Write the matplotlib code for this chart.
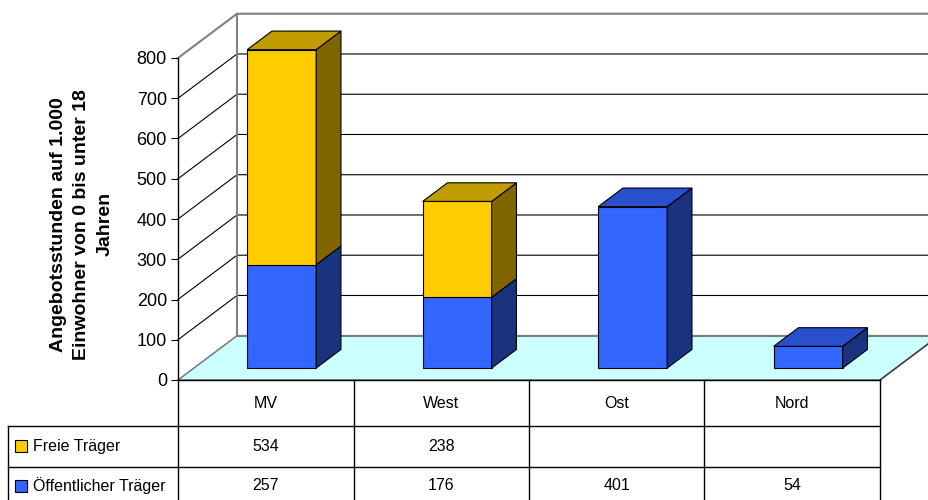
import matplotlib.pyplot as plt
from matplotlib.patches import Polygon, Rectangle

plt.rcParams['font.family'] = ['Liberation Sans', 'DejaVu Sans']

# data
regions = ['MV', 'West', 'Ost', 'Nord']
series_names = ['Freie Träger', 'Öffentlicher Träger']
oeffentlich = [257, 176, 401, 54]
freie = [534, 238, None, None]
y_ticks = [0, 100, 200, 300, 400, 500, 600, 700, 800]
y_label = 'Angebotsstunden auf 1.000\nEinwohner von 0 bis unter 18\nJahren'

# colours: front, top, side
yellow = ('#FFCC00', '#C09C00', '#806600')
blue = ('#3366FF', '#2A4FCC', '#1A337F')
floor_col = '#CCFFFF'
frame_grey = '#808080'

W, H = 929, 500
fig = plt.figure(figsize=(W / 100, H / 100), dpi=100)

# main 3d-looking plot area, x in category units, y in value units
ax = fig.add_axes([178 / W, 120 / H, 702 / W, 322 / H])
ax.set_xlim(-0.5, 3.5)
ax.set_ylim(0, 800)
ax.patch.set_alpha(0)
DX = 59 / 175.5   # depth shift in category units
DY = 110          # depth shift in value units
xl, xr = -0.5, 3.5
vmax = 800


def proj(x, v, d):
    return (x + d * DX, v + d * DY)


# side wall and back wall
side = Polygon([proj(xl, 0, 0), proj(xl, vmax, 0), proj(xl, vmax, 1), proj(xl, 0, 1)],
               closed=True, facecolor='white', edgecolor='none', clip_on=False, zorder=0)
back = Polygon([proj(xl, 0, 1), proj(xr + 0.3, 0, 1), proj(xr + 0.3, vmax, 1), proj(xl, vmax, 1)],
               closed=True, facecolor='white', edgecolor='none', clip_on=False, zorder=0)
ax.add_patch(side)
ax.add_patch(back)

# grid lines on side and back wall
for v in y_ticks[1:-1]:
    p0, p1, p2 = proj(xl, v, 0), proj(xl, v, 1), proj(xr + 0.3, v, 1)
    ax.plot([p0[0], p1[0], p2[0]], [p0[1], p1[1], p2[1]], color='black', lw=0.8,
            clip_on=False, zorder=1)

# wall frame
p0, p1, p2 = proj(xl, vmax, 0), proj(xl, vmax, 1), proj(xr + 0.3, vmax, 1)
ax.plot([p0[0], p1[0], p2[0]], [p0[1], p1[1], p2[1]], color=frame_grey, lw=1.5,
        clip_on=False, zorder=1)
p3 = proj(xl, 0, 1)
ax.plot([p1[0], p3[0]], [p1[1], p3[1]], color=frame_grey, lw=1.5, clip_on=False, zorder=1)

# floor
floor = Polygon([proj(xl, 0, 0), proj(xr, 0, 0), proj(xr, 0, 1), proj(xl, 0, 1)],
                closed=True, facecolor=floor_col, edgecolor=frame_grey, lw=1.2,
                clip_on=False, zorder=2)
ax.add_patch(floor)
b0, b1 = proj(xl, 0, 1), proj(xr + 0.3, 0, 1)
ax.plot([b0[0], b1[0]], [b0[1], b1[1]], color=frame_grey, lw=1.5, clip_on=False, zorder=2)

# bars
half_w = 69 / 175.5 / 2
d0, d1 = 0.27, 0.69


def draw_box(xc, v0, v1, cols, top=True):
    x0, x1 = xc - half_w, xc + half_w
    kw = dict(closed=True, edgecolor='black', lw=0.8, clip_on=False, zorder=3)
    front = [proj(x0, v0, d0), proj(x1, v0, d0), proj(x1, v1, d0), proj(x0, v1, d0)]
    right = [proj(x1, v0, d0), proj(x1, v0, d1), proj(x1, v1, d1), proj(x1, v1, d0)]
    ax.add_patch(Polygon(front, facecolor=cols[0], **kw))
    ax.add_patch(Polygon(right, facecolor=cols[2], **kw))
    if top:
        lid = [proj(x0, v1, d0), proj(x1, v1, d0), proj(x1, v1, d1), proj(x0, v1, d1)]
        ax.add_patch(Polygon(lid, facecolor=cols[1], **kw))


for i in range(len(regions)):
    base = oeffentlich[i]
    draw_box(i, 0, base, blue, top=freie[i] is None)
    if freie[i] is not None:
        draw_box(i, base, base + freie[i], yellow)

# axis
for s in ['top', 'right', 'bottom']:
    ax.spines[s].set_visible(False)
ax.spines['left'].set_color('black')
ax.spines['left'].set_linewidth(1.0)
ax.spines['left'].set_zorder(4)
ax.set_xticks([])
ax.set_yticks(y_ticks)
ax.tick_params(axis='y', direction='out', length=5, width=0.8, pad=3, labelsize=13)
ax.text(-0.137, 0.484, y_label, transform=ax.transAxes, rotation=90,
        ha='center', va='center', multialignment='center',
        fontsize=14, fontweight='bold', linespacing=1.45)

# data table below the plot
tax = fig.add_axes([178 / W, -7 / H, 702 / W, 127 / H])
tax.set_xlim(-0.5, 3.5)
tax.set_ylim(127, 0)
tax.axis('off')
PX = 1 / 175.5
rows = [0, 46, 86.7, 127]
left = xl - 170 * PX
lk = dict(color='black', lw=1.0, clip_on=False)

tax.plot([xl, xr], [rows[0], rows[0]], **lk)
tax.plot([left, xr], [rows[1], rows[1]], **lk)
tax.plot([left, xr], [rows[2], rows[2]], **lk)
tax.plot([left, left], [rows[1], rows[3]], **lk)
for k in range(len(regions) + 1):
    xe = xl + k
    tax.plot([xe, xe], [rows[0], rows[3]], **lk)
# right edge of the floor
fr0, fr1 = proj(xr, 0, 0), proj(xr, 0, 1)
ax.plot([fr0[0], fr1[0]], [fr0[1], fr1[1]], color='#404040', lw=1.0, clip_on=False, zorder=2)

fs = 11.5
for i, name in enumerate(regions):
    tax.text(i, (rows[0] + rows[1]) / 2, name, ha='center', va='center', fontsize=fs)
    if freie[i] is not None:
        tax.text(i, (rows[1] + rows[2]) / 2, str(freie[i]), ha='center', va='center', fontsize=fs)
    tax.text(i, (rows[2] + rows[3]) / 2 - 1, str(oeffentlich[i]), ha='center', va='center', fontsize=fs)

for r, (name, cols) in enumerate(zip(series_names, [yellow, blue])):
    yc = (rows[1 + r] + rows[2 + r]) / 2 - (1 if r == 1 else 0)
    tax.add_patch(Rectangle((left + 7 * PX, yc - 6), 12 * PX, 12, facecolor=cols[0],
                            edgecolor='black', lw=0.8, clip_on=False))
    tax.text(left + 25 * PX, yc, name, ha='left', va='center', fontsize=fs)

fig.savefig('out.png', dpi=100)
